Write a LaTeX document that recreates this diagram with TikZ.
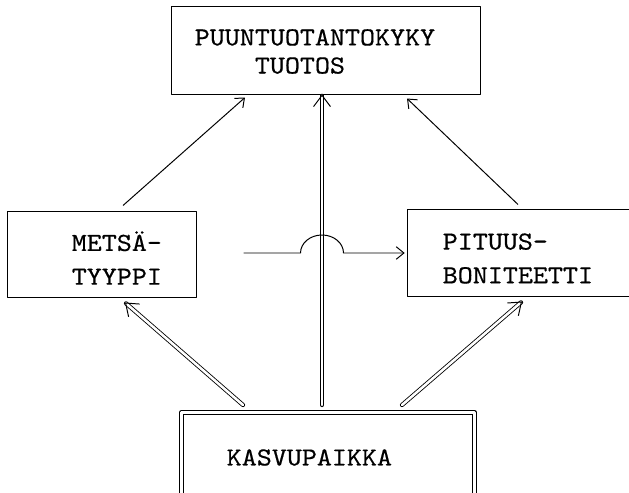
\documentclass[tikz,border=0pt]{standalone}
\usepackage{fontspec}
\setmonofont{lmmono10-regular.otf}[FakeStretch=1.1, FakeBold=0.5]
\usetikzlibrary{arrows.meta, calc}

\tikzset{
  box/.style={draw, rectangle, line width=0.7pt, inner sep=0pt},
  lbl/.style={font=\ttfamily\fontsize{18.5}{20}\selectfont, align=left, inner sep=0pt, anchor=west},
  sidelbl/.style={lbl, font=\ttfamily\fontsize{18.5}{24}\selectfont},
  arr/.style={-{Straight Barb[length=5.5pt,width=9pt]}, line width=0.7pt},
  dblarr/.style={double, double distance=1.8pt, line width=0.6pt, line cap=round,
    -{Straight Barb[length=8pt,width=12pt,line width=0.7pt]}},
}

\begin{document}
\begin{tikzpicture}[x=0.025cm, y=-0.025cm, line join=round]

\useasboundingbox (0,0) rectangle (629,492);
\clip (0,0) rectangle (629,492);

% ================= boxes =================
\node[box, minimum width=7.7cm, minimum height=2.175cm] (tuotos) at (326,50.5) {};
\node[box, minimum width=4.7cm, minimum height=2.125cm] (metsa) at (102,254.5) {};
\node[box, minimum width=5.8cm, minimum height=2.15cm] (pituus) at (524,253) {};
\node[box, double, double distance=2.4pt, minimum width=7.325cm, minimum height=2.425cm] (kasvu) at (328,461) {};

% texts (left aligned inside the boxes)
\node[lbl] (tuotostxt) at ($(tuotos.west)+(23,1)$) {PUUNTUOTANTOKYKY\\\phantom{PUUN}TUOTOS};
\node[sidelbl] (metsatxt) at ($(metsa.west)+(64,3.5)$) {METSÄ-\\TYYPPI};
\node[sidelbl] (pituustxt) at ($(pituus.west)+(35,5.5)$) {PITUUS-\\BONITEETTI};
\node[lbl] (kasvutxt) at ($(kasvu.west)+(45.5,-3.5)$) {KASVUPAIKKA};

% ================= single arrows =================
\draw[arr] ($(metsa.north)+(21,-6)$) -- ($(tuotos.south)+(-81,3)$);
\draw[arr] ($(pituus.north)+(-6,-5)$) -- ($(tuotos.south)+(81,4)$);

% ================= double arrows =================
\draw[dblarr] ($(kasvu.north)+(-6,-7)$) coordinate (v0) -- (v0 |- tuotos.south);
\draw[dblarr] ($(kasvu.north)+(-85,-7)$) -- ($(metsa.south)+(23,5)$);
\draw[dblarr] ($(kasvu.north)+(74,-7)$) -- ($(pituus.south)+(-2,5)$);

% horizontal arrow hopping over the vertical one
\draw[arr, shorten >=2pt] ($(metsa.east)+(47,-1.5)$) coordinate (h0)
  -- ($(h0 -| v0)+(-21.5,0)$)
  arc[start angle=180, end angle=360, x radius=21.5, y radius=18]
  -- (h0 -| pituus.west);

\end{tikzpicture}
\end{document}
